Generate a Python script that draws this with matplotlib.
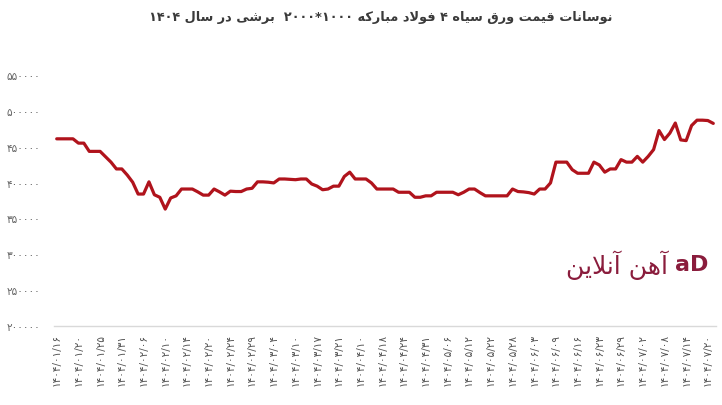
import matplotlib
matplotlib.use("Agg")
import matplotlib.pyplot as plt
from matplotlib.ticker import FixedLocator, FixedFormatter

plt.rcParams['font.family'] = ['DejaVu Sans']

# ---------------- data ----------------
title_text = "نوسانات قیمت ورق سیاه ۴ فولاد مبارکه ۱۰۰۰*۲۰۰۰  برشی در سال ۱۴۰۴"
logo_text = "آهن آنلاین"

prices = [
    461000, 461000, 461000, 461000, 455000, 455000, 443500, 443500, 443500, 436000,
    428500, 419000, 419000, 410500, 400500, 384000, 384000, 401000, 383000, 379500,
    363000, 378500, 381500, 391000, 391000, 391000, 387000, 382500, 382500, 391000,
    387000, 382500, 388000, 387500, 387500, 391000, 392000, 401000, 401000, 400500,
    399500, 405000, 405000, 404500, 404000, 405000, 405000, 398000, 395000, 390000,
    391000, 395000, 395000, 408500, 414500, 405000, 405000, 405000, 399500, 391000,
    391000, 391000, 391000, 386500, 386500, 386500, 379500, 379500, 381500, 381500,
    386500, 386500, 386500, 386500, 383000, 386500, 391000, 391000, 386000, 381500,
    381500, 381500, 381500, 381500, 391000, 387500, 387000, 386000, 384000, 391000,
    391000, 399500, 428500, 428500, 428500, 418000, 413000, 413000, 413000, 428500,
    424500, 414500, 419000, 419000, 432000, 428500, 428500, 436500, 428500, 436500,
    446000, 472500, 460000, 469000, 483000, 459500, 458500, 479500, 487000, 487000,
    486500, 482500,
]

date_labels = [
    "۱۴۰۴/۰۱/۱۶", "۱۴۰۴/۰۱/۲۰", "۱۴۰۴/۰۱/۲۵", "۱۴۰۴/۰۱/۳۱", "۱۴۰۴/۰۲/۰۶",
    "۱۴۰۴/۰۲/۱۰", "۱۴۰۴/۰۲/۱۴", "۱۴۰۴/۰۲/۲۰", "۱۴۰۴/۰۲/۲۴", "۱۴۰۴/۰۲/۲۹",
    "۱۴۰۴/۰۳/۰۴", "۱۴۰۴/۰۳/۱۰", "۱۴۰۴/۰۳/۱۷", "۱۴۰۴/۰۳/۲۱", "۱۴۰۴/۰۴/۱۰",
    "۱۴۰۴/۰۴/۱۸", "۱۴۰۴/۰۴/۲۴", "۱۴۰۴/۰۴/۳۱", "۱۴۰۴/۰۵/۰۶", "۱۴۰۴/۰۵/۱۲",
    "۱۴۰۴/۰۵/۲۲", "۱۴۰۴/۰۵/۲۸", "۱۴۰۴/۰۶/۰۳", "۱۴۰۴/۰۶/۰۹", "۱۴۰۴/۰۶/۱۶",
    "۱۴۰۴/۰۶/۲۳", "۱۴۰۴/۰۶/۲۹", "۱۴۰۴/۰۷/۰۲", "۱۴۰۴/۰۷/۰۸", "۱۴۰۴/۰۷/۱۴",
    "۱۴۰۴/۰۷/۲۰",
]
label_every = 4

y_ticks = [200000, 250000, 300000, 350000, 400000, 450000, 500000, 550000]
y_tick_labels = ["۲۰۰۰۰۰", "۲۵۰۰۰۰", "۳۰۰۰۰۰", "۳۵۰۰۰۰", "۴۰۰۰۰۰", "۴۵۰۰۰۰", "۵۰۰۰۰۰", "۵۵۰۰۰۰"]

# ------------- minimal Arabic-script shaping + RTL ordering for display -------------
FORMS = {
    '\u0627': ('\uFE8D', '\uFE8E', None, None),
    '\u0622': ('\uFE81', '\uFE82', None, None),
    '\u0628': ('\uFE8F', '\uFE90', '\uFE91', '\uFE92'),
    '\u062A': ('\uFE95', '\uFE96', '\uFE97', '\uFE98'),
    '\u062F': ('\uFEA9', '\uFEAA', None, None),
    '\u0631': ('\uFEAD', '\uFEAE', None, None),
    '\u0633': ('\uFEB1', '\uFEB2', '\uFEB3', '\uFEB4'),
    '\u0634': ('\uFEB5', '\uFEB6', '\uFEB7', '\uFEB8'),
    '\u0641': ('\uFED1', '\uFED2', '\uFED3', '\uFED4'),
    '\u0642': ('\uFED5', '\uFED6', '\uFED7', '\uFED8'),
    '\u0644': ('\uFEDD', '\uFEDE', '\uFEDF', '\uFEE0'),
    '\u0645': ('\uFEE1', '\uFEE2', '\uFEE3', '\uFEE4'),
    '\u0646': ('\uFEE5', '\uFEE6', '\uFEE7', '\uFEE8'),
    '\u0647': ('\uFEE9', '\uFEEA', '\uFEEB', '\uFEEC'),
    '\u0648': ('\uFEED', '\uFEEE', None, None),
    '\u06CC': ('\uFBFC', '\uFBFD', '\uFBFE', '\uFBFF'),
    '\u06A9': ('\uFB8E', '\uFB8F', '\uFB90', '\uFB91'),
}
LIG = {'\u0627': ('\uFEFB', '\uFEFC'), '\u0622': ('\uFEF5', '\uFEF6')}
DIGITS = set('0123456789\u06F0\u06F1\u06F2\u06F3\u06F4\u06F5\u06F6\u06F7\u06F8\u06F9')


def shape_word(w):
    w = w.replace('\u064A', '\u06CC').replace('\u0643', '\u06A9')
    units = []
    i = 0
    while i < len(w):
        c = w[i]
        if c == '\u0644' and i + 1 < len(w) and w[i + 1] in LIG:
            units.append(('L', w[i + 1]))
            i += 2
        else:
            units.append(c)
            i += 1

    def is_letter(u):
        return isinstance(u, tuple) or u in FORMS

    def joins_next(u):
        return (not isinstance(u, tuple)) and u in FORMS and FORMS[u][2] is not None

    out = []
    for k, u in enumerate(units):
        prev = units[k - 1] if k > 0 else None
        nxt = units[k + 1] if k + 1 < len(units) else None
        jp = prev is not None and joins_next(prev) and is_letter(u)
        if isinstance(u, tuple):
            iso, fin = LIG[u[1]]
            out.append(fin if jp else iso)
            continue
        if u not in FORMS:
            out.append(u)
            continue
        f = FORMS[u]
        jn = f[2] is not None and nxt is not None and is_letter(nxt)
        if jp and jn:
            out.append(f[3])
        elif jp:
            out.append(f[1])
        elif jn:
            out.append(f[2])
        else:
            out.append(f[0])
    return ''.join(out)


def visual_word(w):
    if any(ch in FORMS or ch in '\u064A\u0643' for ch in w):
        return shape_word(w)[::-1]
    # number token: keep digit runs left-to-right, reverse the run order
    segs, cur = [], ''
    for ch in w:
        if cur and ((ch in DIGITS) != (cur[-1] in DIGITS)):
            segs.append(cur)
            cur = ''
        cur += ch
    if cur:
        segs.append(cur)
    return ''.join(reversed(segs))


def rtl_text(s):
    return ' '.join(visual_word(w) for w in reversed(s.split(' ')))


# ---------------- figure ----------------
W, H = 722, 406
fig = plt.figure(figsize=(W / 100, H / 100), dpi=100)
fig.patch.set_facecolor('white')

ax = fig.add_axes([54 / W, 79 / H, 662 / W, 251 / H])
x = list(range(len(prices)))
ax.plot(x, prices, color='#b0131c', linewidth=2.3, solid_joinstyle='round',
        solid_capstyle='round')

ax.set_xlim(-0.5, len(prices) - 0.5)
ax.set_ylim(200000, 550000)

for s in ['top', 'right', 'left']:
    ax.spines[s].set_visible(False)
ax.spines['bottom'].set_color('#d9d9d9')
ax.spines['bottom'].set_linewidth(1.0)

ax.yaxis.set_major_locator(FixedLocator(y_ticks))
ax.yaxis.set_major_formatter(FixedFormatter(y_tick_labels))
tick_pos = [i * label_every for i in range(len(date_labels))]
ax.xaxis.set_major_locator(FixedLocator(tick_pos))
ax.xaxis.set_major_formatter(FixedFormatter(date_labels))

ax.tick_params(axis='y', length=0, pad=10, labelsize=7.6, labelcolor='#666666')
ax.tick_params(axis='x', length=0, pad=5, labelsize=7.6, labelcolor='#555555',
               labelrotation=90)
for lab in ax.get_xticklabels():
    lab.set_verticalalignment('top')

# title (right-to-left)
fig.text(381 / W, 1 - 17 / H, rtl_text(title_text), ha='center', va='center',
         fontsize=9.3, fontweight='bold', color='#3a3a3a')

# logo
logo_color = '#8a1c3c'
fig.text(668 / W, 1 - 265 / H, rtl_text(logo_text), ha='right', va='center',
         fontsize=18, color=logo_color)
fig.text(675 / W, 1 - 265 / H, 'aD', ha='left', va='center', fontsize=16,
         fontweight='bold', color=logo_color)

fig.savefig('out.png', dpi=100, facecolor='white')
